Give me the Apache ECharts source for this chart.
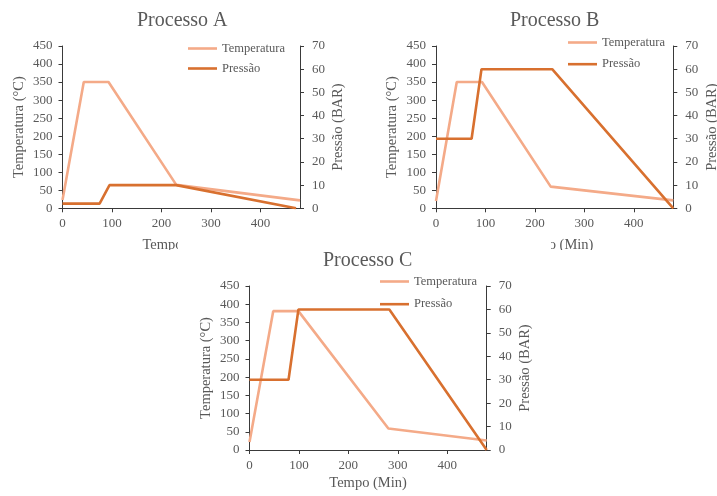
<!DOCTYPE html>
<html><head><meta charset="utf-8">
<script src="https://cdn.jsdelivr.net/npm/echarts@6/dist/echarts.min.js"></script>
<style>
html,body{margin:0;padding:0;background:#fff;width:717px;height:496px;overflow:hidden;position:relative}
.p{position:absolute;background:#fff}
</style></head><body>
<div id="a" class="p" style="left:0;top:0;width:360px;height:250px"></div>
<div id="b" class="p" style="left:360px;top:0;width:357px;height:250px"></div>
<div id="c" class="p" style="left:178px;top:236px;width:373px;height:260px"></div>
<script>
// ---- data ----
const legendNames = ['Temperatura', 'Pressão'];
const titles = ['Processo A', 'Processo B', 'Processo C'];
const xName = 'Tempo (Min)';
const yLeftName = 'Temperatura (°C)';
const yRightName = 'Pressão (BAR)';

const tempA_time = [0, 43, 93, 230, 480];
const tempA_val  = [23, 350, 350, 65, 22];
const presA_time = [0, 75, 95, 230, 472];
const presA_val  = [2, 2, 10, 10, 0];

const tempB_time = [0, 42, 93, 232, 480];
const tempB_val  = [20, 350, 350, 60, 22];
const presB_time = [0, 72, 92, 235, 480];
const presB_val  = [30, 30, 60, 60, 0];

const tempC_time = [0, 48, 99, 281, 480];
const tempC_val  = [22, 381, 381, 59, 26];
const presC_time = [0, 79, 99, 283, 480];
const presC_val  = [30, 30, 60, 60, 0];

// ---- chart building ----
const FONT = 'Liberation Serif';
const TXT = '#595959';
const AX = '#3a3a3a';
const C_TEMP = '#F4AA88';
const C_PRES = '#D8702F';

function pairs(xs, ys) { return xs.map((x, i) => [x, ys[i]]); }

function build(el, title, L, temp, pres) {
  const chart = echarts.init(document.getElementById(el), null, {renderer: 'canvas'});
  const yBase = {
    type: 'value', min: 0, nameLocation: 'middle', nameRotate: 90, nameMoveOverlap: false,
    nameTextStyle: {fontFamily: FONT, fontSize: 14.5, color: TXT},
    axisLine: {show: true, lineStyle: {color: AX, width: 1}},
    axisTick: {show: true, length: 4, lineStyle: {color: AX}},
    axisLabel: {fontFamily: FONT, fontSize: 13, color: TXT},
    splitLine: {show: false}
  };
  chart.setOption({
    animation: false,
    backgroundColor: '#fff',
    title: {
      text: title, left: L.titleLeft, top: L.titleTop,
      textStyle: {fontFamily: FONT, fontSize: 20, fontWeight: 'normal', color: TXT}
    },
    legend: {
      data: legendNames.map(n => ({name: n, icon: 'rect'})),
      orient: 'vertical', left: L.legLeft, top: L.legTop,
      itemWidth: 29, itemHeight: 2.6, itemGap: L.legGap, padding: 0,
      textStyle: {fontFamily: FONT, fontSize: 12.5, color: TXT}
    },
    grid: {left: L.left, top: L.top, width: L.width, height: L.height,
      containLabel: false, outerBoundsMode: 'none'},
    xAxis: {
      type: 'value', min: 0, max: 480, interval: 100,
      name: xName, nameLocation: 'middle', nameGap: L.xGap, nameMoveOverlap: false,
      nameTextStyle: {fontFamily: FONT, fontSize: 14.5, color: TXT},
      axisLine: {show: true, onZero: false, lineStyle: {color: AX, width: 1}},
      axisTick: {show: true, length: 4, lineStyle: {color: AX}},
      axisLabel: {fontFamily: FONT, fontSize: 13, color: TXT, margin: 9, showMaxLabel: false},
      splitLine: {show: false}
    },
    yAxis: [
      Object.assign({}, yBase, {position: 'left', max: 450, interval: 50, name: yLeftName, nameGap: L.yGapL,
        axisLabel: Object.assign({}, yBase.axisLabel, {margin: 10})}),
      Object.assign({}, yBase, {position: 'right', max: 70, interval: 10, name: yRightName, nameGap: L.yGapR,
        axisLabel: Object.assign({}, yBase.axisLabel, {margin: 12})})
    ],
    series: [
      {name: legendNames[0], type: 'line', yAxisIndex: 0, data: temp, symbol: 'none',
        lineStyle: {color: C_TEMP, width: 2.6}, itemStyle: {color: C_TEMP}, z: 2},
      {name: legendNames[1], type: 'line', yAxisIndex: 1, data: pres, symbol: 'none',
        lineStyle: {color: C_PRES, width: 2.6}, itemStyle: {color: C_PRES}, z: 3}
    ]
  });
}

build('a', titles[0],
  {titleLeft: 132, titleTop: 6, legLeft: 188, legTop: 42, legGap: 7,
   left: 62.5, top: 46, width: 237.5, height: 162.3, xGap: 29, yGapL: 36, yGapR: 31},
  pairs(tempA_time, tempA_val), pairs(presA_time, presA_val));

build('b', titles[1],
  {titleLeft: 145, titleTop: 6, legLeft: 208, legTop: 36, legGap: 8.7,
   left: 76, top: 46, width: 237.3, height: 162.3, xGap: 29, yGapL: 36, yGapR: 31},
  pairs(tempB_time, tempB_val), pairs(presB_time, presB_val));

build('c', titles[2],
  {titleLeft: 140, titleTop: 10, legLeft: 202, legTop: 39, legGap: 9.7,
   left: 71.5, top: 50, width: 237.2, height: 164, xGap: 26, yGapL: 36, yGapR: 31},
  pairs(tempC_time, tempC_val), pairs(presC_time, presC_val));
</script>
</body></html>
